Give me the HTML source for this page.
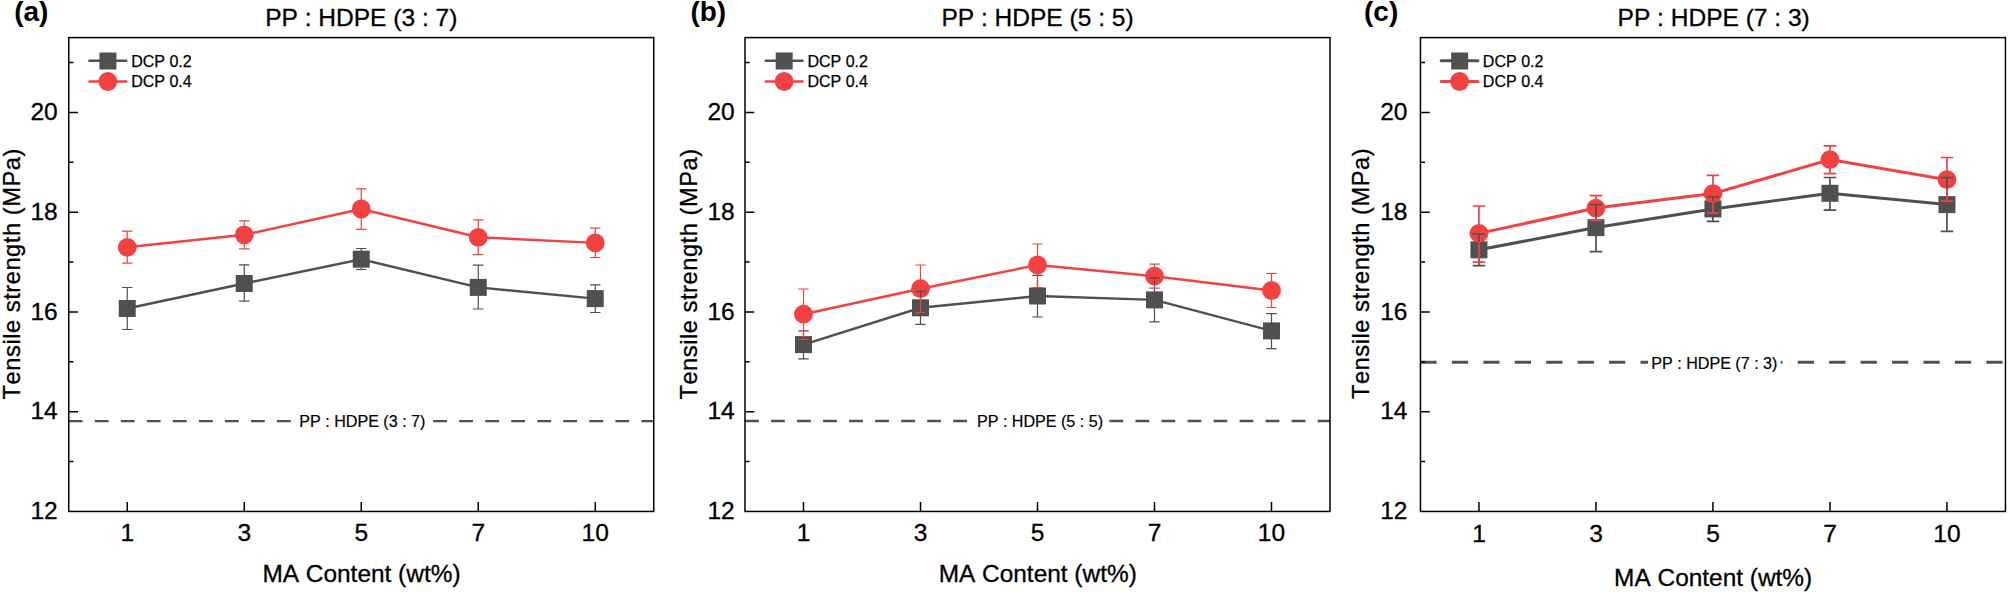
<!DOCTYPE html>
<html lang="en"><head><meta charset="utf-8"><title>Tensile strength vs MA content</title>
<style>
html,body{margin:0;padding:0;background:#fff;}
body{width:2008px;height:592px;overflow:hidden;}
svg{display:block;}
text{font-family:"Liberation Sans",Arial,Helvetica,sans-serif;fill:#000;font-kerning:none;font-variant-ligatures:none;}
.t24{font-size:24.3px;stroke:#000;stroke-width:0.3px;}
.yl{font-size:23.7px;letter-spacing:0.53px;stroke:#000;stroke-width:0.3px;}
.t16{font-size:16.05px;stroke:#000;stroke-width:0.25px;}
.t16b{font-size:16.1px;stroke:#000;stroke-width:0.2px;}
.tag{font-size:28px;font-weight:bold;}
.ax{stroke:#000;stroke-width:1.5;fill:none;}
</style></head><body>
<svg width="2008" height="592" viewBox="0 0 2008 592">
<rect x="0" y="0" width="2008" height="592" fill="#fff"/>
<g>
<line x1="68.75" y1="421.10" x2="653.75" y2="421.10" stroke="#505050" stroke-width="2.45" stroke-dasharray="13.8 12.23"/>
<rect class="ax" x="68.75" y="37.60" width="585.00" height="473.85"/>
<path class="ax" d="M68.75 461.57h4.6M68.75 411.69h9.3M68.75 361.81h4.6M68.75 311.93h9.3M68.75 262.06h4.6M68.75 212.18h9.3M68.75 162.30h4.6M68.75 112.42h9.3M68.75 62.54h4.6M127.25 511.45v-9.5M244.25 511.45v-9.5M361.25 511.45v-9.5M478.25 511.45v-9.5M595.25 511.45v-9.5"/>
<text class="t24" text-anchor="end" transform="translate(57.75,519.10) scale(1.01,1)" >12</text>
<text class="t24" text-anchor="end" transform="translate(57.75,419.34) scale(1.01,1)" >14</text>
<text class="t24" text-anchor="end" transform="translate(57.75,319.58) scale(1.01,1)" >16</text>
<text class="t24" text-anchor="end" transform="translate(57.75,219.83) scale(1.01,1)" >18</text>
<text class="t24" text-anchor="end" transform="translate(57.75,120.07) scale(1.01,1)" >20</text>
<text class="t24" text-anchor="middle" transform="translate(127.25,540.80) scale(1.01,1)" >1</text>
<text class="t24" text-anchor="middle" transform="translate(244.25,540.80) scale(1.01,1)" >3</text>
<text class="t24" text-anchor="middle" transform="translate(361.25,540.80) scale(1.01,1)" >5</text>
<text class="t24" text-anchor="middle" transform="translate(478.25,540.80) scale(1.01,1)" >7</text>
<text class="t24" text-anchor="middle" transform="translate(595.25,540.80) scale(1.01,1)" >10</text>
<text class="t24" text-anchor="middle" transform="translate(361.45,582.45) scale(1.005,1)" >MA Content (wt%)</text>
<text class="yl" text-anchor="middle" transform="translate(20.25,273.77) rotate(-90)">Tensile strength (MPa)</text>
<text class="t24" text-anchor="middle" transform="translate(361.25,26.45) scale(1.01,1)" >PP : HDPE (3 : 7)</text>
<text class="tag" x="14.15" y="21.4">(a)</text>
<rect x="296.05" y="412.10" width="132.6" height="18" fill="#fff"/>
<text class="t16b" text-anchor="middle" x="362.35" y="427.40">PP : HDPE (3 : 7)</text>
<polyline points="127.25,308.50 244.25,283.50 361.25,259.20 478.25,287.40 595.25,298.60" fill="none" stroke="#505050" stroke-width="2.45"/>
<rect x="118.75" y="300.00" width="17" height="17" fill="#505050"/>
<rect x="235.75" y="275.00" width="17" height="17" fill="#505050"/>
<rect x="352.75" y="250.70" width="17" height="17" fill="#505050"/>
<rect x="469.75" y="278.90" width="17" height="17" fill="#505050"/>
<rect x="586.75" y="290.10" width="17" height="17" fill="#505050"/>
<polyline points="127.25,247.30 244.25,234.80 361.25,209.00 478.25,237.30 595.25,242.90" fill="none" stroke="#f34141" stroke-width="2.45"/>
<circle cx="127.25" cy="247.30" r="9.4" fill="#f34141"/>
<circle cx="244.25" cy="234.80" r="9.4" fill="#f34141"/>
<circle cx="361.25" cy="209.00" r="9.4" fill="#f34141"/>
<circle cx="478.25" cy="237.30" r="9.4" fill="#f34141"/>
<circle cx="595.25" cy="242.90" r="9.4" fill="#f34141"/>
<path d="M127.25 287.50V300.50M127.25 316.50V329.50M122.05 287.50h10.4M122.05 329.50h10.4M244.25 264.90V275.50M244.25 291.50V301.10M239.05 264.90h10.4M239.05 301.10h10.4M361.25 248.50V251.20M361.25 267.20V269.50M356.05 248.50h10.4M356.05 269.50h10.4M478.25 265.20V279.40M478.25 295.40V309.00M473.05 265.20h10.4M473.05 309.00h10.4M595.25 284.90V290.60M595.25 306.60V312.50M590.05 284.90h10.4M590.05 312.50h10.4" fill="none" stroke="#505050" stroke-width="1.2"/>
<path d="M127.25 231.20V238.70M127.25 255.90V263.10M122.05 231.20h10.4M122.05 263.10h10.4M244.25 220.90V226.20M244.25 243.40V248.80M239.05 220.90h10.4M239.05 248.80h10.4M361.25 188.90V200.40M361.25 217.60V229.40M356.05 188.90h10.4M356.05 229.40h10.4M478.25 219.90V228.70M478.25 245.90V254.60M473.05 219.90h10.4M473.05 254.60h10.4M595.25 228.10V234.30M595.25 251.50V257.50M590.05 228.10h10.4M590.05 257.50h10.4" fill="none" stroke="#f34141" stroke-width="1.2"/>
<line x1="89.45" y1="60.8" x2="126.25" y2="60.8" stroke="#505050" stroke-width="2.45" stroke-linecap="round"/>
<rect x="99.45" y="52.5" width="17" height="17" fill="#505050"/>
<line x1="89.45" y1="81.4" x2="126.25" y2="81.4" stroke="#f34141" stroke-width="2.45" stroke-linecap="round"/>
<circle cx="107.85" cy="81.5" r="9.4" fill="#f34141"/>
<text class="t16" x="131.15" y="66.6">DCP 0.2</text>
<text class="t16" x="131.15" y="87.1">DCP 0.4</text>
</g>
<g>
<line x1="745.00" y1="420.90" x2="1330.00" y2="420.90" stroke="#505050" stroke-width="2.45" stroke-dasharray="13.8 12.23"/>
<rect class="ax" x="745.00" y="37.60" width="585.00" height="473.85"/>
<path class="ax" d="M745.00 461.57h4.6M745.00 411.69h9.3M745.00 361.81h4.6M745.00 311.93h9.3M745.00 262.06h4.6M745.00 212.18h9.3M745.00 162.30h4.6M745.00 112.42h9.3M745.00 62.54h4.6M803.50 511.45v-9.5M920.50 511.45v-9.5M1037.50 511.45v-9.5M1154.50 511.45v-9.5M1271.50 511.45v-9.5"/>
<text class="t24" text-anchor="end" transform="translate(734.70,519.10) scale(1.01,1)" >12</text>
<text class="t24" text-anchor="end" transform="translate(734.70,419.34) scale(1.01,1)" >14</text>
<text class="t24" text-anchor="end" transform="translate(734.70,319.58) scale(1.01,1)" >16</text>
<text class="t24" text-anchor="end" transform="translate(734.70,219.83) scale(1.01,1)" >18</text>
<text class="t24" text-anchor="end" transform="translate(734.70,120.07) scale(1.01,1)" >20</text>
<text class="t24" text-anchor="middle" transform="translate(803.50,540.80) scale(1.01,1)" >1</text>
<text class="t24" text-anchor="middle" transform="translate(920.50,540.80) scale(1.01,1)" >3</text>
<text class="t24" text-anchor="middle" transform="translate(1037.50,540.80) scale(1.01,1)" >5</text>
<text class="t24" text-anchor="middle" transform="translate(1154.50,540.80) scale(1.01,1)" >7</text>
<text class="t24" text-anchor="middle" transform="translate(1271.50,540.80) scale(1.01,1)" >10</text>
<text class="t24" text-anchor="middle" transform="translate(1037.70,582.45) scale(1.005,1)" >MA Content (wt%)</text>
<text class="yl" text-anchor="middle" transform="translate(696.70,273.97) rotate(-90)">Tensile strength (MPa)</text>
<text class="t24" text-anchor="middle" transform="translate(1037.50,26.45) scale(1.01,1)" >PP : HDPE (5 : 5)</text>
<text class="tag" x="690.40" y="21.4">(b)</text>
<rect x="973.70" y="411.90" width="132.6" height="18" fill="#fff"/>
<text class="t16b" text-anchor="middle" x="1040.00" y="427.20">PP : HDPE (5 : 5)</text>
<polyline points="803.50,344.60 920.50,307.80 1037.50,296.00 1154.50,299.90 1271.50,330.90" fill="none" stroke="#505050" stroke-width="2.45"/>
<rect x="795.00" y="336.10" width="17" height="17" fill="#505050"/>
<rect x="912.00" y="299.30" width="17" height="17" fill="#505050"/>
<rect x="1029.00" y="287.50" width="17" height="17" fill="#505050"/>
<rect x="1146.00" y="291.40" width="17" height="17" fill="#505050"/>
<rect x="1263.00" y="322.40" width="17" height="17" fill="#505050"/>
<polyline points="803.50,314.20 920.50,288.70 1037.50,265.00 1154.50,276.20 1271.50,290.50" fill="none" stroke="#f34141" stroke-width="2.45"/>
<circle cx="803.50" cy="314.20" r="9.4" fill="#f34141"/>
<circle cx="920.50" cy="288.70" r="9.4" fill="#f34141"/>
<circle cx="1037.50" cy="265.00" r="9.4" fill="#f34141"/>
<circle cx="1154.50" cy="276.20" r="9.4" fill="#f34141"/>
<circle cx="1271.50" cy="290.50" r="9.4" fill="#f34141"/>
<path d="M803.50 330.90V336.60M803.50 352.60V358.90M798.30 330.90h10.4M798.30 358.90h10.4M920.50 291.40V299.80M920.50 315.80V324.30M915.30 291.40h10.4M915.30 324.30h10.4M1037.50 275.30V288.00M1037.50 304.00V317.00M1032.30 275.30h10.4M1032.30 317.00h10.4M1154.50 277.80V291.90M1154.50 307.90V321.80M1149.30 277.80h10.4M1149.30 321.80h10.4M1271.50 313.60V322.90M1271.50 338.90V348.60M1266.30 313.60h10.4M1266.30 348.60h10.4" fill="none" stroke="#505050" stroke-width="1.2"/>
<path d="M803.50 289.00V305.60M803.50 322.80V339.50M798.30 289.00h10.4M798.30 339.50h10.4M920.50 265.00V280.10M920.50 297.30V312.70M915.30 265.00h10.4M915.30 312.70h10.4M1037.50 244.00V256.40M1037.50 273.60V287.50M1032.30 244.00h10.4M1032.30 287.50h10.4M1154.50 264.10V267.60M1154.50 284.80V288.10M1149.30 264.10h10.4M1149.30 288.10h10.4M1271.50 273.50V281.90M1271.50 299.10V307.50M1266.30 273.50h10.4M1266.30 307.50h10.4" fill="none" stroke="#f34141" stroke-width="1.2"/>
<line x1="765.70" y1="60.8" x2="802.50" y2="60.8" stroke="#505050" stroke-width="2.45" stroke-linecap="round"/>
<rect x="775.70" y="52.5" width="17" height="17" fill="#505050"/>
<line x1="765.70" y1="81.4" x2="802.50" y2="81.4" stroke="#f34141" stroke-width="2.45" stroke-linecap="round"/>
<circle cx="784.10" cy="81.5" r="9.4" fill="#f34141"/>
<text class="t16" x="807.40" y="66.6">DCP 0.2</text>
<text class="t16" x="807.40" y="87.1">DCP 0.4</text>
</g>
<g>
<line x1="1420.45" y1="362.30" x2="2005.45" y2="362.30" stroke="#505050" stroke-width="3.0" stroke-dasharray="16.2 15.24"/>
<rect class="ax" x="1420.45" y="37.60" width="585.00" height="473.85"/>
<path class="ax" d="M1420.45 461.57h4.6M1420.45 411.69h9.3M1420.45 361.81h4.6M1420.45 311.93h9.3M1420.45 262.06h4.6M1420.45 212.18h9.3M1420.45 162.30h4.6M1420.45 112.42h9.3M1420.45 62.54h4.6M1478.95 511.45v-9.5M1595.95 511.45v-9.5M1712.95 511.45v-9.5M1829.95 511.45v-9.5M1946.95 511.45v-9.5"/>
<text class="t24" text-anchor="end" transform="translate(1407.45,519.10) scale(1.01,1)" >12</text>
<text class="t24" text-anchor="end" transform="translate(1407.45,419.34) scale(1.01,1)" >14</text>
<text class="t24" text-anchor="end" transform="translate(1407.45,319.58) scale(1.01,1)" >16</text>
<text class="t24" text-anchor="end" transform="translate(1407.45,219.83) scale(1.01,1)" >18</text>
<text class="t24" text-anchor="end" transform="translate(1407.45,120.07) scale(1.01,1)" >20</text>
<text class="t24" text-anchor="middle" transform="translate(1478.95,542.30) scale(1.01,1)" >1</text>
<text class="t24" text-anchor="middle" transform="translate(1595.95,542.30) scale(1.01,1)" >3</text>
<text class="t24" text-anchor="middle" transform="translate(1712.95,542.30) scale(1.01,1)" >5</text>
<text class="t24" text-anchor="middle" transform="translate(1829.95,542.30) scale(1.01,1)" >7</text>
<text class="t24" text-anchor="middle" transform="translate(1946.95,542.30) scale(1.01,1)" >10</text>
<text class="t24" text-anchor="middle" transform="translate(1713.15,585.65) scale(1.005,1)" >MA Content (wt%)</text>
<text class="yl" text-anchor="middle" transform="translate(1368.65,273.47) rotate(-90)">Tensile strength (MPa)</text>
<text class="t24" text-anchor="middle" transform="translate(1713.65,26.45) scale(1.01,1)" >PP : HDPE (7 : 3)</text>
<text class="tag" x="1364.00" y="21.4">(c)</text>
<rect x="1648.05" y="353.30" width="132.6" height="18" fill="#fff"/>
<text class="t16b" text-anchor="middle" x="1714.35" y="368.60">PP : HDPE (7 : 3)</text>
<polyline points="1478.95,249.80 1595.95,227.60 1712.95,208.90 1829.95,193.30 1946.95,204.60" fill="none" stroke="#505050" stroke-width="3.0"/>
<rect x="1470.45" y="241.30" width="17" height="17" fill="#505050"/>
<rect x="1587.45" y="219.10" width="17" height="17" fill="#505050"/>
<rect x="1704.45" y="200.40" width="17" height="17" fill="#505050"/>
<rect x="1821.45" y="184.80" width="17" height="17" fill="#505050"/>
<rect x="1938.45" y="196.10" width="17" height="17" fill="#505050"/>
<polyline points="1478.95,233.40 1595.95,208.10 1712.95,193.60 1829.95,159.60 1946.95,179.70" fill="none" stroke="#f34141" stroke-width="3.0"/>
<circle cx="1478.95" cy="233.40" r="9.4" fill="#f34141"/>
<circle cx="1595.95" cy="208.10" r="9.4" fill="#f34141"/>
<circle cx="1712.95" cy="193.60" r="9.4" fill="#f34141"/>
<circle cx="1829.95" cy="159.60" r="9.4" fill="#f34141"/>
<circle cx="1946.95" cy="179.70" r="9.4" fill="#f34141"/>
<path d="M1478.95 234.00V241.80M1478.95 257.80V265.60M1472.65 234.00h12.6M1472.65 265.60h12.6M1595.95 204.50V219.60M1595.95 235.60V251.60M1589.65 204.50h12.6M1589.65 251.60h12.6M1712.95 197.00V200.90M1712.95 216.90V221.40M1706.65 197.00h12.6M1706.65 221.40h12.6M1829.95 177.50V185.30M1829.95 201.30V210.10M1823.65 177.50h12.6M1823.65 210.10h12.6M1946.95 177.50V196.60M1946.95 212.60V231.30M1940.65 177.50h12.6M1940.65 231.30h12.6" fill="none" stroke="#505050" stroke-width="1.7"/>
<path d="M1478.95 206.00V224.80M1478.95 242.00V262.20M1472.65 206.00h12.6M1472.65 262.20h12.6M1595.95 195.70V199.50M1595.95 216.70V220.30M1589.65 195.70h12.6M1589.65 220.30h12.6M1712.95 175.30V185.00M1712.95 202.20V213.00M1706.65 175.30h12.6M1706.65 213.00h12.6M1829.95 145.90V151.00M1829.95 168.20V173.60M1823.65 145.90h12.6M1823.65 173.60h12.6M1946.95 157.50V171.10M1946.95 188.30V201.20M1940.65 157.50h12.6M1940.65 201.20h12.6" fill="none" stroke="#f34141" stroke-width="1.7"/>
<line x1="1441.15" y1="60.8" x2="1477.95" y2="60.8" stroke="#505050" stroke-width="3.0" stroke-linecap="round"/>
<rect x="1451.15" y="52.5" width="17" height="17" fill="#505050"/>
<line x1="1441.15" y1="81.4" x2="1477.95" y2="81.4" stroke="#f34141" stroke-width="3.0" stroke-linecap="round"/>
<circle cx="1459.55" cy="81.5" r="9.4" fill="#f34141"/>
<text class="t16" x="1482.85" y="66.6">DCP 0.2</text>
<text class="t16" x="1482.85" y="87.1">DCP 0.4</text>
</g>
</svg></body></html>
